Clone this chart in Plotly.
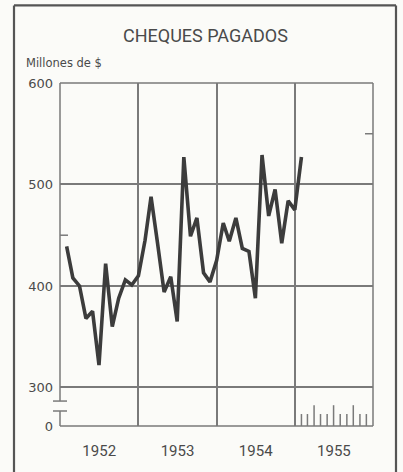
import pandas as pd
import plotly.graph_objects as go

# ---------------- data ----------------
title_text = "CHEQUES PAGADOS"
unit_label = "Millones de $"
month_labels = pd.period_range("1952-01", "1955-01", freq="M")
cheques_pagados = [
    439, 408, 400, 368, 375, 322, 422, 360, 388, 406, 401, 410,   # 1952
    445, 488, 441, 394, 409, 365, 527, 449, 467, 413, 404, 425,   # 1953
    462, 444, 467, 437, 434, 388, 529, 469, 495, 442, 484, 475,   # 1954
    527,                                                          # 1955
]
first_year, last_year = "1952-01-01", "1956-01-01"
y_tick_values = [0, 300, 400, 500, 600]
y_tick_text = ["0", "300", "400", "500", "600"]
last_year_months = pd.period_range("1955-01", "1955-11", freq="M")
quarter_months = [3, 6, 9]

# ---------------- styling ----------------
BG = "#fbfbf8"
GRID = "#7a7a7a"
INK = "#3c3c3c"
TXT = "#4a4a4a"
BREAK_BASE = 262          # virtual axis value standing for "0" below the axis break
PW, PH = 313, 345         # plot area in px
L, T = 60, 83


def px_x(p):
    return (p - L) / PW


def px_y(p):
    return (T + PH - p) / PH


x_dates = month_labels.to_timestamp(how="end")
tickvals = [BREAK_BASE if v == 0 else v for v in y_tick_values]
unit_px = PH / (600 - BREAK_BASE)
y_break_hi = 300 - (403 - 389.3) / unit_px
y_break_lo = 300 - (413 - 389.3) / unit_px

fig = go.Figure()
fig.add_trace(go.Scatter(
    x=x_dates, y=cheques_pagados, mode="lines",
    line=dict(color=INK, width=3.6), hoverinfo="skip", showlegend=False,
))

shapes = []
frame = dict(type="line", line=dict(color=GRID, width=1.5), layer="above")
shapes.append(dict(frame, xref="paper", yref="paper", x0=0, x1=1, y0=1, y1=1))
shapes.append(dict(frame, xref="paper", yref="paper", x0=1, x1=1, y0=0, y1=1))
shapes.append(dict(frame, xref="paper", yref="paper", x0=0, x1=1, y0=0, y1=0))
shapes.append(dict(frame, xref="paper", yref="paper", x0=0, x1=0, y0=0, y1=1))
# axis break
shapes.append(dict(type="rect", xref="paper", yref="y", x0=px_x(57), x1=px_x(63),
                   y0=y_break_lo, y1=y_break_hi, fillcolor=BG, line=dict(width=0), layer="above"))
for yb in (y_break_hi, y_break_lo):
    shapes.append(dict(frame, xref="paper", yref="y", x0=px_x(53), x1=px_x(67), y0=yb, y1=yb))
# small inner ticks at 450 (left) and 550 (right)
shapes.append(dict(frame, xref="paper", yref="y", x0=0, x1=px_x(68), y0=450, y1=450))
shapes.append(dict(frame, xref="paper", yref="y", x0=px_x(365), x1=1, y0=550, y1=550))
# monthly ticks for 1955
for per in last_year_months:
    h = 20.5 if per.month in quarter_months else 11.8
    xm = per.to_timestamp(how="end")
    shapes.append(dict(type="line", xref="x", yref="y", x0=xm, x1=xm,
                       y0=BREAK_BASE, y1=BREAK_BASE + h,
                       line=dict(color=GRID, width=1.5), layer="above"))
# outer border of the card
border = dict(type="line", xref="paper", yref="paper", line=dict(color="#555555", width=2.2))
shapes.append(dict(border, x0=px_x(14), x1=px_x(14), y0=px_y(5), y1=px_y(480)))
shapes.append(dict(border, x0=px_x(14), x1=px_x(396), y0=px_y(5), y1=px_y(5)))
shapes.append(dict(border, x0=px_x(396), x1=px_x(396), y0=px_y(5), y1=px_y(480)))

annotations = [
    dict(text=title_text, xref="paper", yref="paper", x=px_x(205), y=px_y(35),
         xanchor="center", yanchor="middle", showarrow=False,
         font=dict(family="Roboto, sans-serif", size=18, color=TXT)),
    dict(text=unit_label, xref="paper", yref="paper", x=px_x(24), y=px_y(63),
         xanchor="left", yanchor="middle", showarrow=False,
         font=dict(family="DejaVu Sans, sans-serif", size=11.5, color=TXT)),
]

fig.update_layout(
    width=403, height=472,
    margin=dict(l=L, r=403 - L - PW, t=T, b=472 - T - PH),
    paper_bgcolor=BG, plot_bgcolor=BG,
    showlegend=False,
    shapes=shapes, annotations=annotations,
    xaxis=dict(
        type="date", range=[first_year, last_year],
        tickmode="linear", tick0=first_year, dtick="M12",
        tickformat="%Y", ticklabelmode="period",
        showgrid=True, gridcolor=GRID, gridwidth=1.5,
        ticks="", zeroline=False, showline=False,
        tickfont=dict(family="Roboto, sans-serif", size=15, color=TXT),
        ticklabelstandoff=14,
    ),
    yaxis=dict(
        range=[BREAK_BASE, 600], tickmode="array", tickvals=tickvals, ticktext=y_tick_text,
        showgrid=True, gridcolor=GRID, gridwidth=1.5, zeroline=False, showline=False,
        ticks="", tickfont=dict(family="DejaVu Sans, sans-serif", size=13, color=TXT),
        ticklabelstandoff=6,
    ),
)

fig.write_html("out.html", config={"displayModeBar": False},
               post_script="document.body.style.margin='0px';")
